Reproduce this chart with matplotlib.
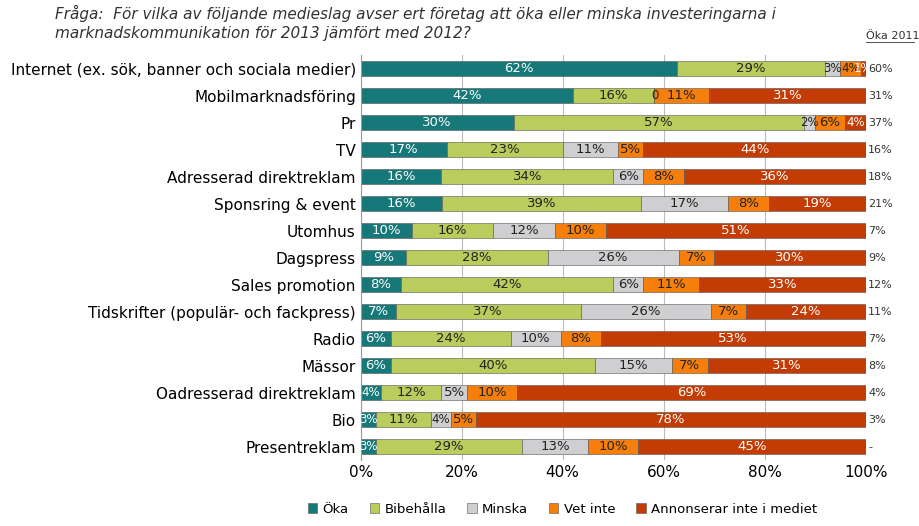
import numpy as np
import matplotlib
matplotlib.use("Agg")
import matplotlib.pyplot as plt
from matplotlib.lines import Line2D

categories = ["Internet (ex. sök, banner och sociala medier)", "Mobilmarknadsföring", "Pr", "TV",
              "Adresserad direktreklam", "Sponsring & event", "Utomhus", "Dagspress",
              "Sales promotion", "Tidskrifter (populär- och fackpress)", "Radio", "Mässor",
              "Oadresserad direktreklam", "Bio", "Presentreklam"]
oka = [62, 42, 30, 17, 16, 16, 10, 9, 8, 7, 6, 6, 4, 3, 3]
bibehalla = [29, 16, 57, 23, 34, 39, 16, 28, 42, 37, 24, 40, 12, 11, 29]
minska = [3, 0, 2, 11, 6, 17, 12, 26, 6, 26, 10, 15, 5, 4, 13]
vet_inte = [4, 11, 6, 5, 8, 8, 10, 7, 11, 7, 8, 7, 10, 5, 10]
annonserar = [1, 31, 4, 44, 36, 19, 51, 30, 33, 24, 53, 31, 69, 78, 45]
oka_2011 = ["60%", "31%", "37%", "16%", "18%", "21%", "7%", "9%", "12%", "11%", "7%", "8%", "4%", "3%", "-"]

series = [("Öka", oka, "#17787a", "white"),
          ("Bibehålla", bibehalla, "#b9cc5c", "#222222"),
          ("Minska", minska, "#cfcfd2", "#222222"),
          ("Vet inte", vet_inte, "#f57f0a", "#222222"),
          ("Annonserar inte i mediet", annonserar, "#c43c05", "white")]

fig = plt.figure(figsize=(9.2, 5.26), dpi=100)
ax = fig.add_axes([0.392, 0.125, 0.549, 0.77])
y = np.arange(len(categories))
totals = np.array([sum(v) for v in zip(*[s[1] for s in series])], dtype=float)
left = np.zeros(len(categories))
for name, vals, col, tcol in series:
    w = np.array(vals) / totals * 100
    ax.barh(y, w, left=left, height=0.55, color=col, edgecolor="#555555", linewidth=0.4, label=name)
    for i, (v, ww) in enumerate(zip(vals, w)):
        fs = 9.5 if v >= 5 else 8.5
        if name == "Minska" and v == 0:
            ax.text(left[i] + 0.3, y[i], "0", ha="center", va="center", fontsize=fs, color=tcol)
        elif v > 0:
            ax.text(left[i] + ww / 2, y[i], f"{v}%", ha="center", va="center", fontsize=fs, color=tcol)
    left += w

ax.set_ylim(len(categories) - 0.5, -0.5)
ax.set_xlim(0, 100)
ax.set_yticks(y)
ax.set_yticklabels(categories, fontsize=11)
ax.set_xticks(range(0, 101, 20))
ax.set_xticklabels([f"{t}%" for t in range(0, 101, 20)], fontsize=11)
ax.tick_params(length=0)
ax.xaxis.grid(True, color="#bbbbbb", linewidth=0.8)
ax.set_axisbelow(True)
for s in ["top", "right", "bottom"]:
    ax.spines[s].set_visible(False)
ax.spines["left"].set_color("#999999")

for i, lab in enumerate(oka_2011):
    ax.text(1.005, y[i], lab, transform=ax.get_yaxis_transform(), fontsize=8, va="center", ha="left", color="#333333")
fig.text(0.941, 0.925, "Öka 2011", fontsize=8, ha="left", color="#333333")
fig.add_artist(Line2D([0.941, 0.993], [0.921, 0.921], color="#333333", linewidth=0.6))

fig.text(0.06, 0.99, "Fråga:  För vilka av följande medieslag avser ert företag att öka eller minska investeringarna i\nmarknadskommunikation för 2013 jämfört med 2012?",
         fontsize=11, style="italic", va="top", ha="left", color="#333333", linespacing=1.3)

ax.legend(loc="upper center", bbox_to_anchor=(0.40, -0.075), ncol=5, frameon=False, fontsize=9.5,
          handlelength=0.7, handleheight=0.7, columnspacing=1.6, handletextpad=0.4)
fig.savefig("out.png", dpi=100)
